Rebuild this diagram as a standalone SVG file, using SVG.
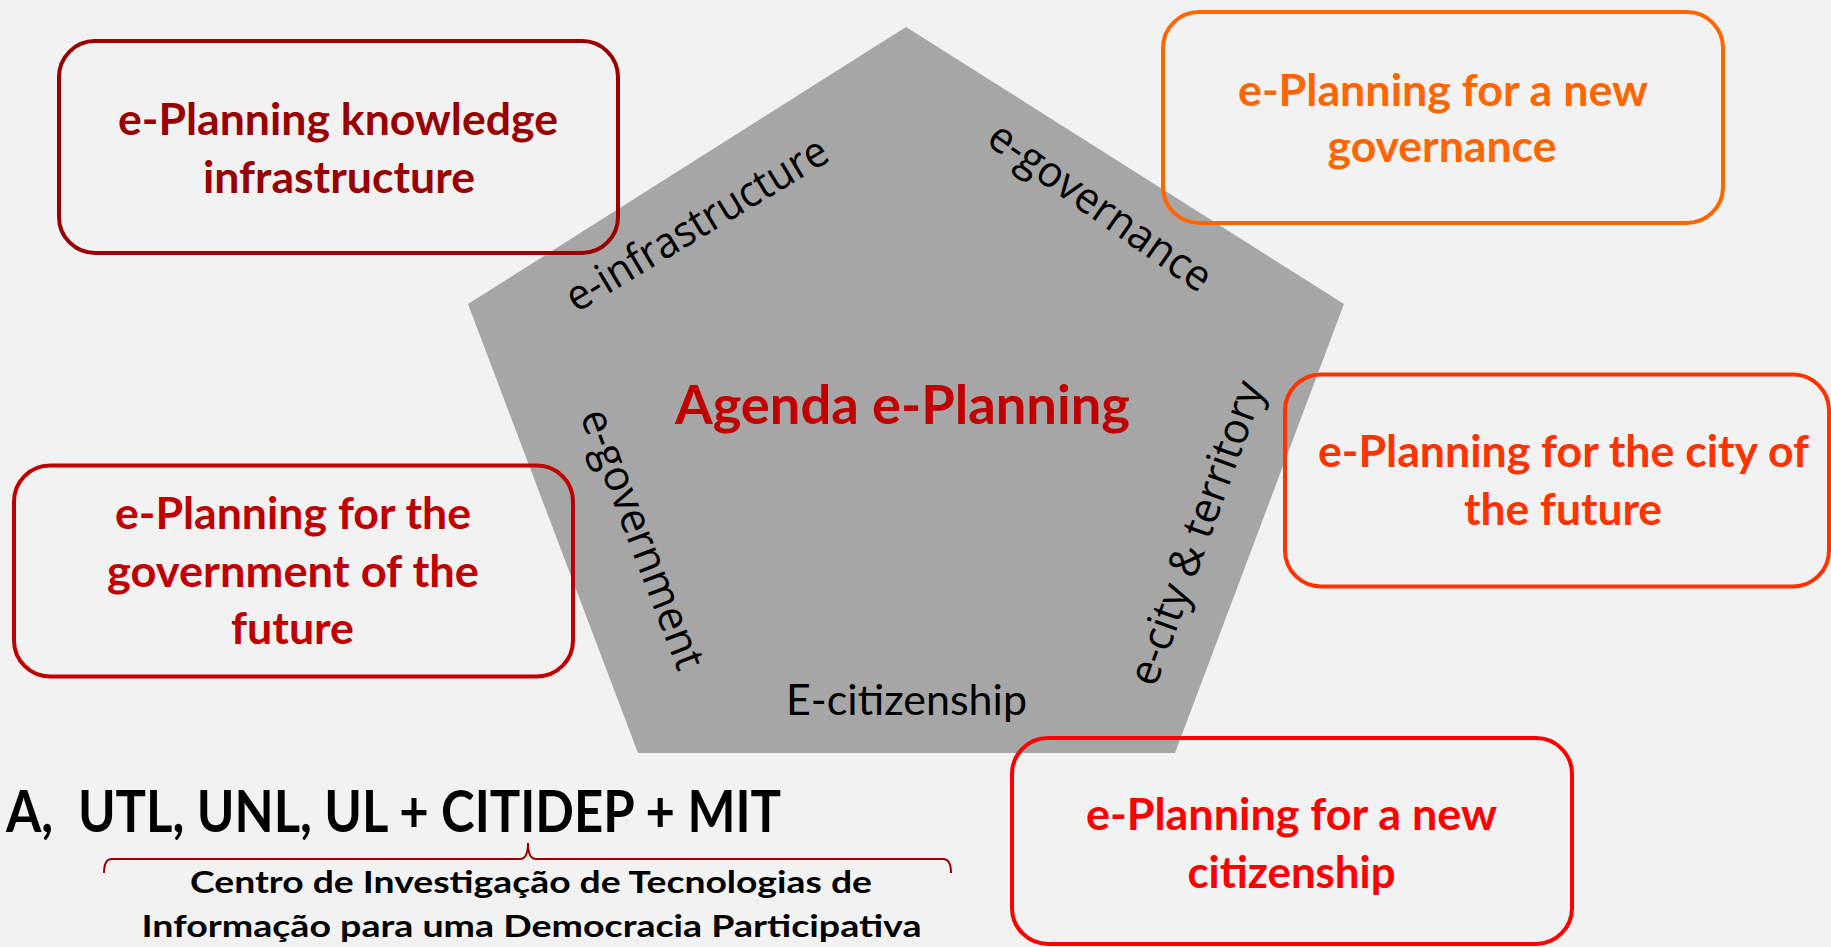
<svg xmlns="http://www.w3.org/2000/svg" width="1831" height="947" viewBox="0 0 1831 947">
<style>
.bg{fill:#F2F2F2}
.pent{fill:#A6A6A6}
.box{fill:none;stroke-width:4}
.bt{font-family:Lato,"Liberation Sans",sans-serif;font-weight:700;font-size:44px;text-anchor:middle}
.lbl{font-family:"Open Sans","Liberation Sans",sans-serif;font-size:43px;fill:#000;text-anchor:middle}
.cal{font-family:Lato,"Liberation Sans",sans-serif;text-anchor:middle}
</style>
<rect class="bg" x="0" y="0" width="1831" height="947"/>
<g id="pentagon">
<polygon class="pent" points="906,27 1344,304 1175,753 638,753 468,304"/>
<text class="cal" x="902.5" y="424" font-size="54" font-weight="700" fill="#C00000" textLength="455" lengthAdjust="spacingAndGlyphs">Agenda e-Planning</text>
<text class="lbl" transform="translate(704,236.5) rotate(-31)" textLength="298" lengthAdjust="spacingAndGlyphs">e-infrastructure</text>
<text class="lbl" transform="translate(1092,218.5) rotate(35)" textLength="262" lengthAdjust="spacingAndGlyphs">e-governance</text>
<text class="lbl" transform="translate(629,544) rotate(69)" textLength="275" lengthAdjust="spacingAndGlyphs">e-government</text>
<text class="lbl" transform="translate(1210,538) rotate(-70)" textLength="320" lengthAdjust="spacingAndGlyphs">e-city &amp; territory</text>
<text class="cal" x="906.5" y="715" font-size="43" fill="#000" textLength="241" lengthAdjust="spacingAndGlyphs">E-citizenship</text>
</g>
<g id="box-knowledge">
<rect class="box" x="59" y="41" width="559" height="212" rx="36" stroke="#990000"/>
<text class="bt" fill="#990000" x="338" y="135" textLength="440" lengthAdjust="spacingAndGlyphs">e-Planning knowledge</text>
<text class="bt" fill="#990000" x="339" y="193" textLength="272" lengthAdjust="spacingAndGlyphs">infrastructure</text>
</g>
<g id="box-governance">
<rect class="box" x="1163" y="12" width="560" height="211" rx="36" stroke="#FF6600"/>
<text class="bt" fill="#FF6600" x="1443" y="106" textLength="410" lengthAdjust="spacingAndGlyphs">e-Planning for a new</text>
<text class="bt" fill="#FF6600" x="1442" y="162" textLength="229" lengthAdjust="spacingAndGlyphs">governance</text>
</g>
<g id="box-government">
<rect class="box" x="14" y="465.5" width="559" height="211" rx="36" stroke="#C00000"/>
<text class="bt" fill="#C00000" x="293" y="529" textLength="356" lengthAdjust="spacingAndGlyphs">e-Planning for the</text>
<text class="bt" fill="#C00000" x="293" y="587" textLength="372" lengthAdjust="spacingAndGlyphs">government of the</text>
<text class="bt" fill="#C00000" x="292.5" y="644" textLength="123" lengthAdjust="spacingAndGlyphs">future</text>
</g>
<g id="box-city">
<rect class="box" x="1285" y="374.5" width="544" height="212" rx="36" stroke="#FF3300"/>
<text class="bt" fill="#FF3300" x="1563.5" y="466.5" textLength="491" lengthAdjust="spacingAndGlyphs">e-Planning for the city of</text>
<text class="bt" fill="#FF3300" x="1563" y="525" textLength="198" lengthAdjust="spacingAndGlyphs">the future</text>
</g>
<g id="box-citizenship">
<rect class="box" x="1012" y="738" width="560" height="206" rx="36" stroke="#FF0000"/>
<text class="bt" fill="#FF0000" x="1291.5" y="830" textLength="411" lengthAdjust="spacingAndGlyphs">e-Planning for a new</text>
<text class="bt" fill="#FF0000" x="1291.5" y="888" textLength="208" lengthAdjust="spacingAndGlyphs">citizenship</text>
</g>
<g id="partners">
<text class="cal" x="393.5" y="831.5" font-size="57" font-weight="700" fill="#000" textLength="775" lengthAdjust="spacingAndGlyphs" style="white-space:pre">A,  UTL, UNL, UL + CITIDEP + MIT</text>
<text class="cal" x="531" y="893" font-size="30" font-weight="700" fill="#000" textLength="682" lengthAdjust="spacingAndGlyphs">Centro de Investigação de Tecnologias de</text>
<text class="cal" x="531.5" y="936.5" font-size="30" font-weight="700" fill="#000" textLength="780" lengthAdjust="spacingAndGlyphs">Informação para uma Democracia Participativa</text>
</g>
<g id="connectors">
<path d="M104,873 Q104,859 112,859 L520,859 Q528,859 528,843 Q528,859 536,859 L943,859 Q951,859 951,873" fill="none" stroke="#990000" stroke-width="2"/>
</g>
</svg>
